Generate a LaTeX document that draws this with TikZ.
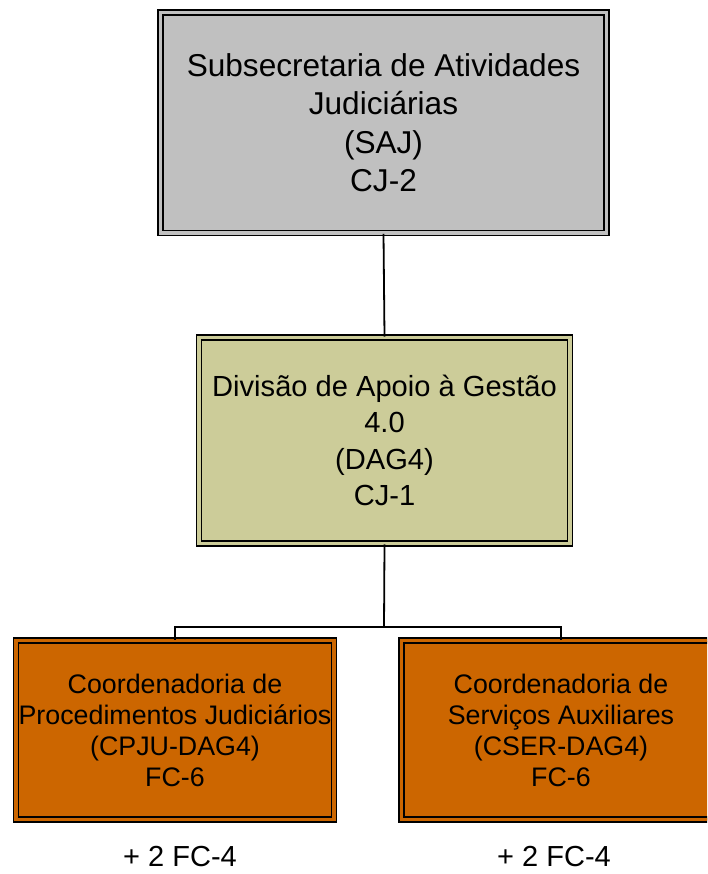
\documentclass[tikz,border=0pt]{standalone}
\usepackage{fontspec}
\setmainfont{Liberation Sans}
\definecolor{topgray}{HTML}{C0C0C0}
\definecolor{midkhaki}{HTML}{CCCC99}
\definecolor{orangebox}{HTML}{CC6600}
\begin{document}
\begin{tikzpicture}[x=1pt,y=-1pt,
  box/.style={draw=black, fill=#1, double=#1, double distance=3.2pt, line width=1.7pt,
    inner sep=0pt, align=center, anchor=center},
  conn/.style={draw=black, line width=1.8pt},
  extra/.style={font=\fontsize{29}{33}\selectfont, inner sep=0pt}]
\clip (0,0) rectangle (707,874);
\useasboundingbox (0,0) rectangle (707,874);
\node[box=topgray, minimum width=446pt, minimum height=220.5pt,
  font=\fontsize{31.6}{38.6}\selectfont] (saj) at (383.5,122.75)
  {Subsecretaria de Atividades\\Judiciárias\\(SAJ)\\CJ-2};
\node[box=midkhaki, minimum width=371pt, minimum height=206pt,
  font=\fontsize{29.1}{36.4}\selectfont] (dag) at (384.5,440.5)
  {Divisão de Apoio à Gestão\\4.0\\(DAG4)\\CJ-1};
\node[box=orangebox, minimum width=318pt, minimum height=179pt,
  font=\fontsize{26.8}{31}\selectfont] (cpju) at (175,730)
  {Coordenadoria de\\Procedimentos Judiciários\\(CPJU-DAG4)\\FC-6};
\node[box=orangebox, minimum width=319pt, minimum height=179pt,
  font=\fontsize{26.8}{31}\selectfont] (cser) at (561,730)
  {Coordenadoria de\\Serviços Auxiliares\\(CSER-DAG4)\\FC-6};
\coordinate (split) at (384,627);
\draw[conn] (saj.south) -- (dag.north);
\draw[conn] (dag.south) -- (split);
\draw[conn] (cpju.north) |- (split) -| (cser.north);
\node[extra] (fc4a) at (180,857) {+ 2 FC-4};
\node[extra] (fc4b) at (554,857) {+ 2 FC-4};
\end{tikzpicture}
\end{document}
